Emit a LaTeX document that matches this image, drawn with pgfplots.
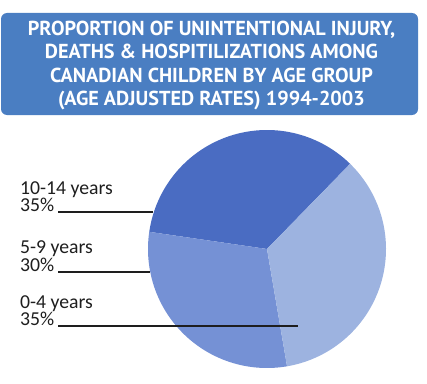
\documentclass[border=0pt]{standalone}
\usepackage{pgfplots}
\pgfplotsset{compat=1.18}
\usepackage{pgfplotstable}
\usepackage{fontspec}
\setmainfont{Carlito}
\newfontfamily\titlefont{PT Sans}
\definecolor{titlebg}{HTML}{4A7EC2}
\definecolor{darkblue}{HTML}{4A6CC2}
\definecolor{midblue}{HTML}{7591D5}
\definecolor{lightblue}{HTML}{9DB3E0}
\definecolor{txt}{HTML}{1E1E1E}

\pgfplotstableread{
group value
10-14 35
5-9 30
0-4 35
}\piedata

\begin{document}
\begin{tikzpicture}
\useasboundingbox (0,0) rectangle (427bp,384bp);
\pgfplotstablegetelem{0}{value}\of\piedata \let\va\pgfplotsretval
\pgfplotstablegetelem{1}{value}\of\piedata \let\vb\pgfplotsretval
\pgfplotstablegetelem{2}{value}\of\piedata \let\vc\pgfplotsretval
\pgfmathsetmacro\aA{45.7}
\pgfmathsetmacro\aB{\aA+3.6*\va}
\pgfmathsetmacro\aC{\aB+3.6*\vb}
\pgfmathsetmacro\aD{\aC+3.6*\vc}
\begin{axis}[at={(0,0)}, anchor=south west, width=427bp, height=384bp,
  scale only axis, xmin=0, xmax=427, ymin=0, ymax=384, y dir=reverse,
  hide axis, clip=false]
\fill[titlebg, rounded corners=6bp] (axis cs:1,13) rectangle (axis cs:418,115);
\begin{scope}[every node/.style={text=white, anchor=base, inner sep=0pt,
  font=\titlefont\bfseries\fontsize{20.3}{22}\selectfont}]
\node at (axis cs:211.5,35) {PROPORTION OF UNINTENTIONAL INJURY,};
\node at (axis cs:211.5,58.5) {DEATHS \& HOSPITILIZATIONS AMONG};
\node at (axis cs:211.5,82) {CANADIAN CHILDREN BY AGE GROUP};
\node at (axis cs:211.5,105.5) {(AGE ADJUSTED RATES) 1994-2003};
\end{scope}
\addplot[draw=none, fill=darkblue, domain=\aA:\aB, samples=120] ({267+119*cos(x)},{249-119*sin(x)}) -- (axis cs:267,249) -- cycle;
\addplot[draw=none, fill=midblue, domain=\aB:\aC, samples=120] ({267+119*cos(x)},{249-119*sin(x)}) -- (axis cs:267,249) -- cycle;
\addplot[draw=none, fill=lightblue, domain=\aC:\aD, samples=120] ({267+119*cos(x)},{249-119*sin(x)}) -- (axis cs:267,249) -- cycle;
\begin{scope}[every node/.style={text=txt, anchor=base west, inner sep=0pt,
  font=\fontsize{19.8}{21}\selectfont}]
\node at (axis cs:20,194) {10-14 years};
\node at (axis cs:20,211) {35\%};
\node at (axis cs:20,253) {5-9 years};
\node at (axis cs:20,271) {30\%};
\node at (axis cs:20,308) {0-4 years};
\node at (axis cs:20,325) {35\%};
\end{scope}
\draw[txt, line width=1.3bp] (axis cs:58,212) -- (axis cs:153,212);
\draw[txt, line width=1.3bp] (axis cs:58,272) -- (axis cs:150,272);
\draw[txt, line width=1.3bp] (axis cs:58,326) -- (axis cs:298,326);
\end{axis}
\end{tikzpicture}
\end{document}
